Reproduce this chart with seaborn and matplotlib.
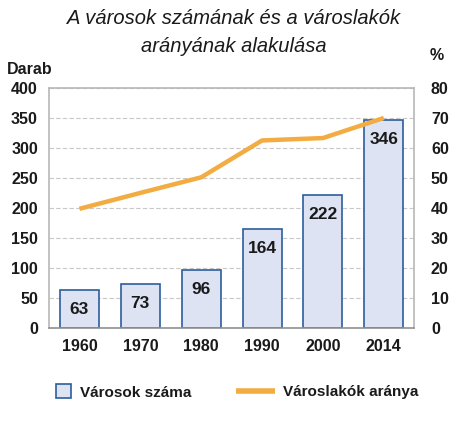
import pandas as pd
import numpy as np
import matplotlib
matplotlib.use("Agg")
import matplotlib.pyplot as plt
import seaborn as sns
from matplotlib.patches import Patch
from matplotlib.lines import Line2D

# data
years = ["1960", "1970", "1980", "1990", "2000", "2014"]
towns = [63, 73, 96, 164, 222, 346]
urban_share = [39.7, 45.0, 50.2, 62.5, 63.3, 70.0]

sns.set_style("white")
plt.rcParams['font.family'] = ['Liberation Sans', 'DejaVu Sans']

bar_face = "#dde3f3"
bar_edge = "#2c5d9c"
line_col = "#f2ac42"
frame_col = "#b8b8b8"
txt_col = "#1a1a1a"

df = pd.DataFrame({"year": years, "towns": towns, "share": urban_share})

fig = plt.figure(figsize=(4.67, 4.23), dpi=100)
ax = fig.add_axes([0.105, 0.225, 0.782, 0.567])

sns.barplot(data=df, x="year", y="towns", ax=ax, color=bar_face,
            edgecolor=bar_edge, linewidth=1.2, width=0.64, saturation=1, zorder=2)
ax.set_ylim(0, 400)
ax.set_xlim(-0.5, 5.5)
ax.set_yticks(range(0, 401, 50))
ax.yaxis.grid(True, color="#c8c8c8", linestyle=(0, (4, 2)), linewidth=0.8, zorder=0)
ax.set_axisbelow(True)
ax.set_xlabel("")
ax.set_ylabel("")
for s in ax.spines.values():
    s.set_color(frame_col)
    s.set_linewidth(1.2)
ax.spines["bottom"].set_color("#909090")
ax.tick_params(axis="both", length=0, labelsize=11.5, pad=8, labelcolor=txt_col)
for lbl in ax.get_xticklabels() + ax.get_yticklabels():
    lbl.set_fontweight("bold")

for i, v in enumerate(towns):
    ax.annotate(str(v), (i, v), xytext=(0, -14), textcoords="offset points",
                ha="center", va="center", fontsize=12.5, fontweight="bold", color=txt_col)

ax2 = ax.twinx()
sns.lineplot(data=df, x="year", y="share", ax=ax2, color=line_col, linewidth=3.2,
             sort=False, zorder=3, solid_capstyle="butt")
ax2.set_ylim(0, 80)
ax2.set_yticks(range(0, 81, 10))
ax2.set_ylabel("")
ax2.set_xlabel("")
for s in ax2.spines.values():
    s.set_visible(False)
ax2.tick_params(axis="y", length=0, labelsize=11.5, pad=12, labelcolor=txt_col)
for lbl in ax2.get_yticklabels():
    lbl.set_fontweight("bold")

fig.text(0.5, 1 - 18 / 423, "A városok számának és a városlakók",
         ha="center", va="center", fontsize=14.5, style="italic", color=txt_col)
fig.text(0.5, 1 - 47 / 423, "arányának alakulása",
         ha="center", va="center", fontsize=14.5, style="italic", color=txt_col)
fig.text(7 / 467, 1 - 70 / 423, "Darab", ha="left", va="center", fontsize=11.5,
         fontweight="bold", color=txt_col)
fig.text(437 / 467, 1 - 55 / 423, "%", ha="center", va="center", fontsize=11.5,
         fontweight="bold", color=txt_col)

leg_font = {"weight": "bold", "size": 11}
leg1 = fig.legend([Patch(facecolor=bar_face, edgecolor=bar_edge, linewidth=1.2)],
                  ["Városok száma"], loc="center left",
                  bbox_to_anchor=(42 / 467, 1 - 392 / 423), frameon=False,
                  handlelength=1.0, handleheight=1.0, handletextpad=0.6, prop=leg_font)
leg2 = fig.legend([Line2D([], [], color=line_col, linewidth=4, solid_capstyle="butt")],
                  ["Városlakók aránya"], loc="center left",
                  bbox_to_anchor=(222 / 467, 1 - 392 / 423), frameon=False,
                  handlelength=2.6, handletextpad=0.5, prop=leg_font)
for leg in (leg1, leg2):
    for t in leg.get_texts():
        t.set_color(txt_col)

fig.savefig("out.png", dpi=100)
